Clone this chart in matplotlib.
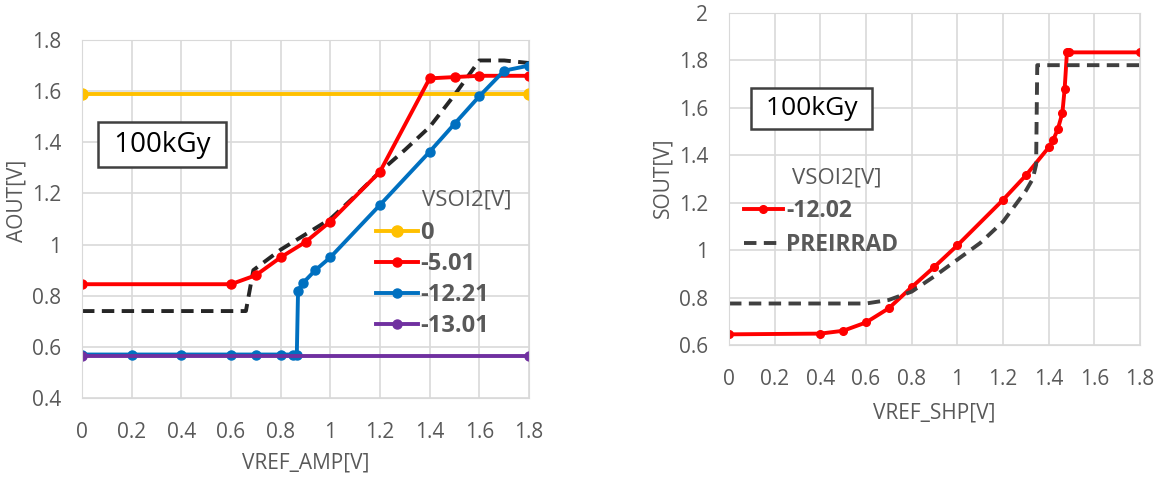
import matplotlib
matplotlib.use("Agg")
import matplotlib.pyplot as plt
from matplotlib.ticker import FuncFormatter

# left chart: AOUT vs VREF_AMP
yel_x = [0, 1.8]
yel_y = [1.59, 1.59]
red_x = [0, 0.6, 0.7, 0.8, 0.9, 1.0, 1.2, 1.4, 1.5, 1.6, 1.8]
red_y = [0.845, 0.845, 0.88, 0.95, 1.01, 1.09, 1.285, 1.65, 1.655, 1.66, 1.66]
blue_x = [0, 0.2, 0.4, 0.6, 0.7, 0.8, 0.85, 0.865, 0.87, 0.89, 0.94, 1.0, 1.2, 1.4, 1.5, 1.6, 1.7, 1.8]
blue_y = [0.57, 0.57, 0.57, 0.57, 0.57, 0.57, 0.57, 0.57, 0.82, 0.85, 0.90, 0.95, 1.155, 1.363, 1.472, 1.58, 1.68, 1.70]
purp_x = [0, 1.8]
purp_y = [0.564, 0.564]
pre_amp_x = [0, 0.66, 0.69, 0.8, 0.9, 1.0, 1.1, 1.2, 1.3, 1.4, 1.5, 1.6, 1.7, 1.8]
pre_amp_y = [0.74, 0.74, 0.9, 0.98, 1.04, 1.1, 1.19, 1.285, 1.37, 1.46, 1.585, 1.72, 1.72, 1.71]
amp_labels = ["0", "-5.01", "-12.21", "-13.01"]

# right chart: SOUT vs VREF_SHP
shp_x = [0, 0.4, 0.5, 0.6, 0.7, 0.8, 0.9, 1.0, 1.2, 1.3, 1.4, 1.42, 1.44, 1.46, 1.47, 1.48, 1.49, 1.8]
shp_y = [0.645, 0.648, 0.66, 0.695, 0.755, 0.844, 0.93, 1.02, 1.212, 1.315, 1.433, 1.465, 1.51, 1.578, 1.68, 1.834, 1.834, 1.834]
pre_shp_x = [0, 0.6, 0.7, 0.8, 0.9, 1.0, 1.1, 1.2, 1.3, 1.33, 1.345, 1.35, 1.8]
pre_shp_y = [0.775, 0.775, 0.79, 0.825, 0.89, 0.96, 1.03, 1.12, 1.25, 1.30, 1.36, 1.78, 1.78]
shp_labels = ["-12.02", "PREIRRAD"]

plt.rcParams['font.family'] = ['Open Sans', 'DejaVu Sans']
gray = "#595959"
grid = "#D9D9D9"
W, H = 1167, 479

fig = plt.figure(figsize=(11.67, 4.79), dpi=100)
ax1 = fig.add_axes([82/W, 1-398/H, 447/W, 358/H])
ax2 = fig.add_axes([729/W, 1-345/H, 411/W, 332/H])

fmt = FuncFormatter(lambda v, p: "%g" % round(v, 2))

def style(ax, ymin, ymax):
    ax.set_xlim(0, 1.8)
    ax.set_ylim(ymin, ymax)
    ax.set_xticks([i*0.2 for i in range(10)])
    ax.set_yticks([ymin + i*0.2 for i in range(int(round((ymax-ymin)/0.2))+1)])
    ax.xaxis.set_major_formatter(fmt)
    ax.yaxis.set_major_formatter(fmt)
    ax.grid(True, color=grid, lw=1.2)
    ax.set_axisbelow(True)
    for s in ax.spines.values():
        s.set_color(grid)
    ax.tick_params(length=0, labelsize=15, colors=gray)
    ax.tick_params(axis="x", pad=17)
    ax.tick_params(axis="y", pad=15)

lw = 2.8
ms = 6.5
box = dict(boxstyle="square,pad=0.3", fc="white", ec="#404040", lw=1.8)

style(ax1, 0.4, 1.8)
ax1.plot(pre_amp_x, pre_amp_y, "--", color="#262626", lw=lw, dashes=(3.2, 1.9))
l1, = ax1.plot(yel_x, yel_y, "-o", color="#FFC000", lw=lw, ms=ms+1.5, label=amp_labels[0])
l2, = ax1.plot(red_x, red_y, "-o", color="#FF0000", lw=lw, ms=ms, label=amp_labels[1])
l3, = ax1.plot(blue_x, blue_y, "-o", color="#0070C0", lw=lw, ms=ms, label=amp_labels[2])
l4, = ax1.plot(purp_x, purp_y, "-o", color="#7030A0", lw=lw, ms=ms, label=amp_labels[3])
ax1.set_xlabel("VREF_AMP[V]", fontsize=15, color=gray)
ax1.set_ylabel("AOUT[V]", fontsize=15, color=gray)
ax1.xaxis.set_label_coords(0.5, -0.151)
ax1.yaxis.set_label_coords(-0.121, 0.55)
ax1.text(0.179, 0.708, " 100kGy ", transform=ax1.transAxes, fontsize=20, ha="center", va="center", bbox=box)
ax1.text(422/W, 1-200/H, "VSOI2[V]", transform=fig.transFigure, fontsize=16, color=gray, va="center")
leg1 = ax1.legend(handles=[l1, l2, l3, l4], loc="upper left", bbox_to_anchor=(376/W, 1-221/H),
                  bbox_transform=fig.transFigure, frameon=False, fontsize=17, handlelength=1.78,
                  handletextpad=0.08, labelspacing=0.30, borderpad=0, borderaxespad=0)
for t in leg1.get_texts():
    t.set_color(gray)
    t.set_fontweight("bold")

style(ax2, 0.6, 2.0)
ax2.plot(shp_x, shp_y, "-o", color="#FF0000", lw=lw, ms=ms-1, label=shp_labels[0])
ax2.plot(pre_shp_x, pre_shp_y, "--", color="#404040", lw=lw, dashes=(3.2, 1.9), label=shp_labels[1])
ax2.set_xlabel("VREF_SHP[V]", fontsize=15, color=gray)
ax2.set_ylabel("SOUT[V]", fontsize=15, color=gray)
ax2.xaxis.set_label_coords(0.5, -0.172)
ax2.yaxis.set_label_coords(-0.134, 0.503)
ax2.text(0.2007, 0.712, " 100kGy ", transform=ax2.transAxes, fontsize=19, ha="center", va="center", bbox=box)
ax2.text(792/W, 1-178/H, "VSOI2[V]", transform=fig.transFigure, fontsize=16, color=gray, va="center")
leg2 = ax2.legend(loc="upper left", bbox_to_anchor=(744/W, 1-199/H),
                  bbox_transform=fig.transFigure, frameon=False, fontsize=16.5, handlelength=1.7,
                  handletextpad=0.13, labelspacing=0.43, borderpad=0, borderaxespad=0)
for t in leg2.get_texts():
    t.set_color(gray)
    t.set_fontweight("bold")

fig.savefig("out.png", dpi=100)
